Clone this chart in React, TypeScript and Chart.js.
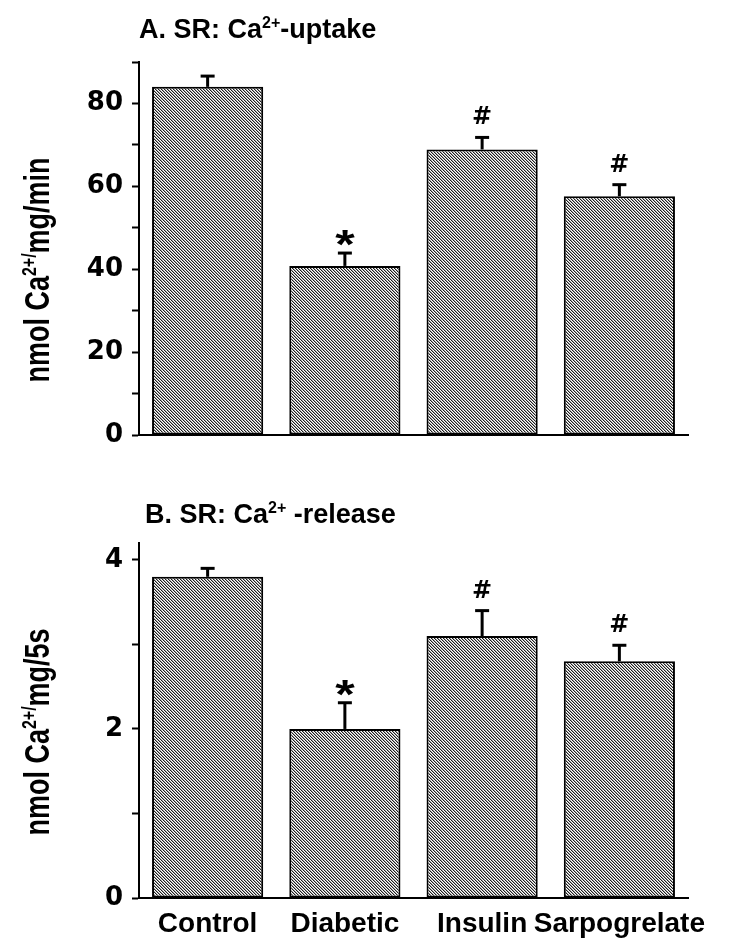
import React, { useEffect, useRef } from "react";
import { Chart, registerables } from "chart.js";

Chart.register(...registerables);

// ---------- data ----------
const categories = ["Control", "Diabetic", "Insulin", "Sarpogrelate"];
const uptakeValues = [84, 40.8, 68.9, 57.6];
const uptakeErrors = [2.6, 3.1, 2.9, 2.8];
const releaseValues = [3.8, 2.0, 3.1, 2.8];
const releaseErrors = [0.1, 0.31, 0.3, 0.19];
const significance = ["", "*", "#", "#"];
const uptakeTickValues = [0, 10, 20, 30, 40, 50, 60, 70, 80, 90];
const uptakeTickLabels = [0, 20, 40, 60, 80];
const releaseTickValues = [0, 1, 2, 3, 4];
const releaseTickLabels = [0, 2, 4];

type Part = { t: string; sup?: boolean };
const uptakeTitle: Part[] = [{ t: "A. SR: Ca" }, { t: "2+", sup: true }, { t: "-uptake" }];
const releaseTitle: Part[] = [{ t: "B. SR: Ca" }, { t: "2+", sup: true }, { t: " -release" }];
const uptakeYTitle: Part[] = [{ t: "nmol Ca" }, { t: "2+/", sup: true }, { t: "mg/min" }];
const releaseYTitle: Part[] = [{ t: "nmol Ca" }, { t: "2+/", sup: true }, { t: "mg/5s" }];

// ---------- layout ----------
const W = 739;
const AREA_LEFT = 139;
const AREA_RIGHT = 688;
const Y_AXIS_W = 75;
const FONT = "'Liberation Sans', Arial, Helvetica, sans-serif";
const TICK_FONT = "'DejaVu Sans', 'Liberation Sans', sans-serif";

function makeHatch(): CanvasPattern | string {
  const c = document.createElement("canvas");
  c.width = 6;
  c.height = 6;
  const g = c.getContext("2d");
  if (!g) return "#888";
  const img = g.createImageData(6, 6);
  for (let y = 0; y < 6; y++) {
    for (let x = 0; x < 6; x++) {
      const k = (((x - y) % 3) + 3) % 3;
      const v = k === 0 ? 30 : k === 1 ? 165 : 255;
      const i = (y * 6 + x) * 4;
      img.data[i] = v;
      img.data[i + 1] = v;
      img.data[i + 2] = v;
      img.data[i + 3] = 255;
    }
  }
  g.putImageData(img, 0, 0);
  return g.createPattern(c, "repeat") || "#888";
}

function richWidth(ctx: CanvasRenderingContext2D, parts: Part[], size: number) {
  let w = 0;
  for (const p of parts) {
    const s = p.sup ? Math.round(size * 0.6) : size;
    ctx.font = `bold ${s}px ${FONT}`;
    w += ctx.measureText(p.t).width;
  }
  return w;
}

function drawRich(ctx: CanvasRenderingContext2D, parts: Part[], x: number, y: number, size: number) {
  let cx = x;
  ctx.textAlign = "left";
  ctx.textBaseline = "alphabetic";
  for (const p of parts) {
    const s = p.sup ? Math.round(size * 0.6) : size;
    ctx.font = `bold ${s}px ${FONT}`;
    ctx.fillText(p.t, cx, p.sup ? y - size * 0.36 : y);
    cx += ctx.measureText(p.t).width;
  }
}

type PanelProps = {
  height: number;
  values: number[];
  errors: number[];
  marks: string[];
  tickValues: number[];
  tickLabels: number[];
  yMax: number;
  title: Part[];
  yTitle: Part[];
  areaTop: number;
  areaBottom: number;
  titleX: number;
  titleBaseline: number;
  yTitleCenter: number;
  showCategories: boolean;
  xAxisH: number;
};

function Panel(props: PanelProps) {
  const ref = useRef<HTMLCanvasElement | null>(null);
  useEffect(() => {
    const canvas = ref.current;
    if (!canvas) return;
    const hatch = makeHatch();
    const p = props;
    const overlay = {
      id: "overlay",
      afterDatasetsDraw(chart: any) {
        const { ctx } = chart;
        const x = chart.scales.x;
        const y = chart.scales.y;
        ctx.save();
        ctx.strokeStyle = "#000";
        ctx.fillStyle = "#000";
        ctx.lineWidth = 3;
        p.values.forEach((v, i) => {
          const px = x.getPixelForValue(i);
          const yb = y.getPixelForValue(v);
          const yc = y.getPixelForValue(v + p.errors[i]);
          ctx.beginPath();
          ctx.moveTo(px, yb);
          ctx.lineTo(px, yc);
          ctx.stroke();
          ctx.beginPath();
          ctx.moveTo(px - 7, yc);
          ctx.lineTo(px + 7, yc);
          ctx.stroke();
          const m = p.marks[i];
          if (m) {
            ctx.textAlign = "center";
            ctx.textBaseline = "alphabetic";
            if (m === "*") {
              ctx.save();
              ctx.translate(px, yc + 5);
              ctx.scale(1.25, 1);
              ctx.font = `bold 40px ${FONT}`;
              ctx.fillText(m, 0, 0);
              ctx.restore();
            } else {
              ctx.font = `bold 24px ${TICK_FONT}`;
              ctx.fillText(m, px, yc - 13);
            }
          }
        });
        // panel title
        drawRich(ctx, p.title, p.titleX, p.titleBaseline, 27);
        // y-axis title (rotated)
        const size = 27;
        const w = richWidth(ctx, p.yTitle, size);
        ctx.save();
        ctx.translate(49, p.yTitleCenter);
        ctx.scale(1.3, 1);
        ctx.rotate(-Math.PI / 2);
        drawRich(ctx, p.yTitle, -w / 2, 0, size);
        ctx.restore();
        ctx.restore();
      },
    };
    const chart = new Chart(canvas, {
      type: "bar",
      data: {
        labels: categories,
        datasets: [
          {
            data: p.values,
            backgroundColor: hatch as any,
            borderColor: "#000",
            borderWidth: 2,
            borderSkipped: false,
            barPercentage: 0.81,
            categoryPercentage: 1,
          },
        ],
      },
      options: {
        responsive: false,
        animation: false,
        events: [],
        layout: {
          padding: {
            left: AREA_LEFT - Y_AXIS_W,
            right: W - AREA_RIGHT,
            top: p.areaTop,
            bottom: p.height - p.areaBottom - p.xAxisH,
          },
        },
        plugins: {
          legend: { display: false },
          tooltip: { enabled: false },
          title: { display: false },
        },
        scales: {
          x: {
            offset: true,
            grid: { display: false, drawTicks: false, tickLength: 0 },
            border: { display: true, color: "#000", width: 2 },
            ticks: {
              display: p.showCategories,
              color: "#000",
              font: { family: FONT, size: 28, weight: "bold" },
              padding: 9,
              maxRotation: 0,
              minRotation: 0,
              autoSkip: false,
            },
            afterFit: (s: any) => {
              s.height = p.xAxisH;
            },
          },
          y: {
            min: 0,
            max: p.yMax,
            afterBuildTicks: (s: any) => {
              s.ticks = p.tickValues.map((v) => ({ value: v }));
            },
            grid: {
              drawOnChartArea: false,
              drawTicks: true,
              tickLength: 7,
              tickWidth: 2,
              tickColor: "#000",
              color: "#000",
            },
            border: { display: true, color: "#000", width: 2 },
            ticks: {
              color: "#000",
              font: { family: TICK_FONT, size: 26, weight: "bold" },
              padding: 9,
              autoSkip: false,
              callback: (v: any) => (p.tickLabels.includes(Number(v)) ? String(v) : ""),
            },
            afterFit: (s: any) => {
              s.width = Y_AXIS_W;
            },
          },
        },
      } as any,
      plugins: [overlay],
    });
    return () => chart.destroy();
  }, []);
  return (
    <canvas
      ref={ref}
      width={W}
      height={props.height}
      style={{ display: "block", width: W, height: props.height }}
    />
  );
}

export default function App() {
  return (
    <div style={{ position: "absolute", left: 0, top: 0, width: W, height: 944, background: "#fff" }}>
      <Panel
        height={480}
        values={uptakeValues}
        errors={uptakeErrors}
        marks={significance}
        tickValues={uptakeTickValues}
        tickLabels={uptakeTickLabels}
        yMax={90}
        title={uptakeTitle}
        yTitle={uptakeYTitle}
        areaTop={62}
        areaBottom={435}
        titleX={139}
        titleBaseline={38}
        yTitleCenter={270}
        showCategories={false}
        xAxisH={0}
      />
      <Panel
        height={464}
        values={releaseValues}
        errors={releaseErrors}
        marks={significance}
        tickValues={releaseTickValues}
        tickLabels={releaseTickLabels}
        yMax={4.2}
        title={releaseTitle}
        yTitle={releaseYTitle}
        areaTop={63}
        areaBottom={418}
        titleX={145}
        titleBaseline={43}
        yTitleCenter={252}
        showCategories={true}
        xAxisH={46}
      />
    </div>
  );
}
